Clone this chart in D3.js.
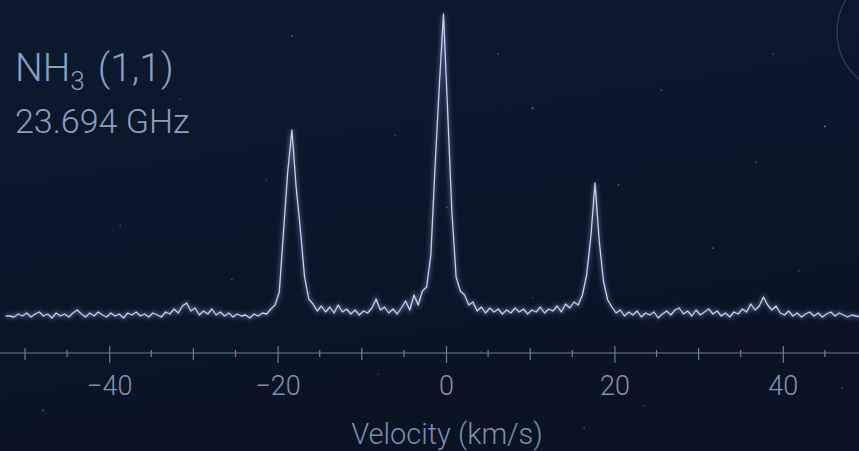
<!DOCTYPE html>
<html>
<head>
<meta charset="utf-8">
<script src="https://cdn.jsdelivr.net/npm/d3@7"></script>
<style>
  html, body { margin: 0; padding: 0; background: #0a1426; }
  svg { display: block; }
  .tick text { font-family: Roboto, "Open Sans", sans-serif; font-weight: 300; }
</style>
</head>
<body>
<div id="chart"></div>
<script>
// NH3 (1,1) spectrum, channels every 0.5 km/s
const velocity = [
  -52.3, -51.8, -51.3, -50.8, -50.3, -49.8, -49.3, -48.8, -48.3, -47.8,
  -47.3, -46.8, -46.3, -45.8, -45.3, -44.8, -44.3, -43.8, -43.3, -42.8,
  -42.3, -41.8, -41.3, -40.8, -40.3, -39.8, -39.3, -38.8, -38.3, -37.8,
  -37.3, -36.8, -36.3, -35.8, -35.3, -34.8, -34.3, -33.8, -33.3, -32.8,
  -32.3, -31.8, -31.3, -30.8, -30.3, -29.8, -29.3, -28.8, -28.3, -27.8,
  -27.3, -26.8, -26.3, -25.8, -25.3, -24.8, -24.3, -23.8, -23.3, -22.8,
  -22.3, -21.8, -21.3, -20.8, -20.3, -19.8, -19.3, -18.8, -18.3, -17.8,
  -17.3, -16.8, -16.3, -15.8, -15.3, -14.8, -14.3, -13.8, -13.3, -12.8,
  -12.3, -11.8, -11.3, -10.8, -10.3, -9.8, -9.3, -8.8, -8.3, -7.8,
  -7.3, -6.8, -6.3, -5.8, -5.3, -4.8, -4.3, -3.8, -3.3, -2.8,
  -2.3, -1.8, -1.3, -0.8, -0.3, 0.2, 0.7, 1.2, 1.7, 2.2,
  2.7, 3.2, 3.7, 4.2, 4.7, 5.2, 5.7, 6.2, 6.7, 7.2,
  7.7, 8.2, 8.7, 9.2, 9.7, 10.2, 10.7, 11.2, 11.7, 12.2,
  12.7, 13.2, 13.7, 14.2, 14.7, 15.2, 15.7, 16.2, 16.7, 17.2,
  17.7, 18.2, 18.7, 19.2, 19.7, 20.2, 20.7, 21.2, 21.7, 22.2,
  22.7, 23.2, 23.7, 24.2, 24.7, 25.2, 25.7, 26.2, 26.7, 27.2,
  27.7, 28.2, 28.7, 29.2, 29.7, 30.2, 30.7, 31.2, 31.7, 32.2,
  32.7, 33.2, 33.7, 34.2, 34.7, 35.2, 35.7, 36.2, 36.7, 37.2,
  37.7, 38.2, 38.7, 39.2, 39.7, 40.2, 40.7, 41.2, 41.7, 42.2,
  42.7, 43.2, 43.7, 44.2, 44.7, 45.2, 45.7, 46.2, 46.7, 47.2,
  47.7, 48.2, 48.7, 49.2, 49.7
];
// antenna temperature (K)
const intensity = [
  0.01, 0.01, 0.00, 0.03, 0.01, 0.04, 0.00, 0.03, 0.05, 0.01,
  0.03, -0.01, 0.04, 0.01, 0.03, 0.00, 0.04, 0.07, 0.03, 0.00,
  0.04, 0.01, 0.05, 0.02, 0.00, 0.04, 0.01, 0.03, -0.01, 0.04,
  0.02, 0.05, 0.01, 0.03, 0.00, 0.04, 0.02, 0.00, 0.05, 0.03,
  0.08, 0.04, 0.11, 0.14, 0.06, 0.09, 0.02, 0.06, 0.03, 0.08,
  0.02, 0.05, 0.01, 0.04, 0.00, 0.03, 0.01, 0.02, -0.01, 0.03,
  0.01, 0.04, 0.03, 0.08, 0.12, 0.25, 0.85, 1.45, 1.87, 1.30,
  0.88, 0.40, 0.18, 0.13, 0.06, 0.11, 0.05, 0.10, 0.04, 0.12,
  0.05, 0.08, 0.03, 0.07, 0.02, 0.06, 0.04, 0.09, 0.18, 0.07,
  0.10, 0.04, 0.08, 0.03, 0.09, 0.16, 0.07, 0.22, 0.12, 0.26,
  0.30, 0.62, 1.50, 2.30, 3.03, 2.05, 1.05, 0.40, 0.26, 0.22,
  0.12, 0.15, 0.06, 0.10, 0.04, 0.09, 0.05, 0.08, 0.03, 0.07,
  0.04, 0.09, 0.05, 0.08, 0.03, 0.07, 0.05, 0.10, 0.04, 0.08,
  0.06, 0.11, 0.05, 0.13, 0.09, 0.15, 0.12, 0.22, 0.42, 0.80,
  1.34, 0.76, 0.36, 0.17, 0.10, 0.04, 0.07, 0.01, 0.05, 0.02,
  0.06, 0.00, 0.04, 0.02, 0.05, -0.01, 0.03, 0.06, 0.02, 0.07,
  0.09, 0.03, 0.06, 0.01, 0.07, 0.02, 0.05, 0.08, 0.03, 0.06,
  0.01, 0.04, 0.00, 0.05, 0.03, 0.08, 0.05, 0.13, 0.07, 0.11,
  0.20, 0.12, 0.07, 0.11, 0.04, 0.02, 0.06, 0.01, 0.04, 0.00,
  0.03, 0.05, 0.01, 0.04, 0.00, 0.03, 0.05, 0.01, 0.04, 0.02,
  0.00, 0.02, 0.01, 0.00, 0.00
];
const tickValues = [-40, -20, 0, 20, 40];
const minorTicks = [-50, -45, -35, -30, -25, -15, -10, -5, 5, 10, 15, 25, 30, 35, 45];
const titleMolecule = ["NH", "3", "(1,1)"];
const titleFreq = "23.694 GHz";
const xLabel = "Velocity (km/s)";

// background dust, [fraction of width, fraction of height, brightness]
const stars = [
  [0.34, 0.08, 0.5], [0.58, 0.12, 0.4], [0.62, 0.24, 0.6], [0.77, 0.2, 0.5],
  [0.96, 0.28, 0.7], [0.88, 0.36, 0.4], [0.72, 0.41, 0.5], [0.52, 0.46, 0.4],
  [0.27, 0.62, 0.4], [0.36, 0.65, 0.3], [0.83, 0.55, 0.5], [0.93, 0.6, 0.4],
  [0.05, 0.91, 0.5], [0.44, 0.83, 0.3], [0.68, 0.95, 0.4], [0.98, 0.86, 0.4],
  [0.14, 0.5, 0.3], [0.46, 0.3, 0.3], [0.9, 0.12, 0.4], [0.21, 0.22, 0.3],
  [0.62, 0.66, 0.3], [0.75, 0.9, 0.3], [0.56, 0.78, 0.3], [0.31, 0.4, 0.3]
];

const W = 859, H = 451;
const axisY = 353;
const font = "Roboto, 'Open Sans', sans-serif";

const svg = d3.select("#chart").append("svg")
  .attr("width", W)
  .attr("height", H);

const defs = svg.append("defs");
const bg = defs.append("linearGradient").attr("id", "bg")
  .attr("x1", 0).attr("y1", 0).attr("x2", 0.3).attr("y2", 1);
bg.append("stop").attr("offset", "0%").attr("stop-color", "#0c1a2f");
bg.append("stop").attr("offset", "100%").attr("stop-color", "#091324");
const glow = defs.append("filter").attr("id", "glow")
  .attr("x", "-10%").attr("y", "-10%").attr("width", "120%").attr("height", "120%");
glow.append("feGaussianBlur").attr("stdDeviation", 2.2);

svg.append("rect").attr("width", W).attr("height", H).attr("fill", "url(#bg)");

svg.selectAll(".star")
  .data(stars)
  .enter().append("circle")
  .attr("class", "star")
  .attr("cx", d => d[0] * W)
  .attr("cy", d => d[1] * H)
  .attr("r", 0.9)
  .attr("fill", "#9fb3d6")
  .attr("fill-opacity", d => d[2]);

// faint planet limb, top right
svg.append("circle")
  .attr("cx", 899).attr("cy", 32).attr("r", 62)
  .attr("fill", "none")
  .attr("stroke", "#5a77a8")
  .attr("stroke-opacity", 0.45)
  .attr("stroke-width", 1.2);

// scales
const x = d3.scaleLinear().domain([-50, 50]).range([25, 867]);
const y = d3.scaleLinear().domain([0, 3]).range([317, 17]);

const spectrum = velocity.map((v, i) => [v, intensity[i]]);
const line = d3.line().x(d => x(d[0])).y(d => y(d[1]));

svg.append("path")
  .datum(spectrum)
  .attr("d", line)
  .attr("fill", "none")
  .attr("stroke", "#9fb6e6")
  .attr("stroke-width", 3)
  .attr("stroke-opacity", 0.45)
  .attr("filter", "url(#glow)");

svg.append("path")
  .datum(spectrum)
  .attr("d", line)
  .attr("fill", "none")
  .attr("stroke", "#c3d1ee")
  .attr("stroke-width", 1.3)
  .attr("stroke-linejoin", "round");

// axis
const axisColor = "#6d7d9b";
svg.append("line")
  .attr("x1", 0).attr("x2", W)
  .attr("y1", axisY).attr("y2", axisY)
  .attr("stroke", axisColor)
  .attr("stroke-width", 1.2);

svg.selectAll(".minor")
  .data(minorTicks)
  .enter().append("line")
  .attr("class", "minor")
  .attr("x1", d => x(d)).attr("x2", d => x(d))
  .attr("y1", d => d % 10 === 0 ? axisY - 5 : axisY - 3)
  .attr("y2", d => d % 10 === 0 ? axisY + 7 : axisY + 4)
  .attr("stroke", axisColor)
  .attr("stroke-width", 1.2);

const xAxis = d3.axisBottom(x)
  .tickValues(tickValues)
  .tickSize(9)
  .tickPadding(15);

const gx = svg.append("g")
  .attr("transform", "translate(0," + axisY + ")")
  .call(xAxis);
gx.select(".domain").remove();
gx.selectAll(".tick line")
  .attr("y1", -7)
  .attr("y2", 10)
  .attr("stroke", axisColor)
  .attr("stroke-width", 1.2);
gx.selectAll(".tick text")
  .attr("y", 0)
  .attr("dy", null)
  .attr("transform", "translate(0,42)")
  .attr("fill", "#8392b0")
  .style("font-size", "27px");

svg.append("text")
  .attr("x", 447)
  .attr("y", 444)
  .attr("text-anchor", "middle")
  .attr("fill", "#7d8dac")
  .style("font-family", font)
  .style("font-weight", 300)
  .style("font-size", "29px")
  .text(xLabel);

// title
const title = svg.append("text")
  .attr("x", 15)
  .attr("y", 81)
  .attr("fill", "#8d9ec0")
  .style("font-family", font)
  .style("font-weight", 300)
  .style("font-size", "39px");
title.append("tspan").text(titleMolecule[0]);
title.append("tspan").attr("dy", 9).style("font-size", "26px").text(titleMolecule[1]);
title.append("tspan").attr("dy", -9).attr("dx", 13).text(titleMolecule[2]);

svg.append("text")
  .attr("x", 15)
  .attr("y", 133)
  .attr("fill", "#8d9ec0")
  .style("font-family", font)
  .style("font-weight", 300)
  .style("font-size", "34px")
  .text(titleFreq);
</script>
</body>
</html>
